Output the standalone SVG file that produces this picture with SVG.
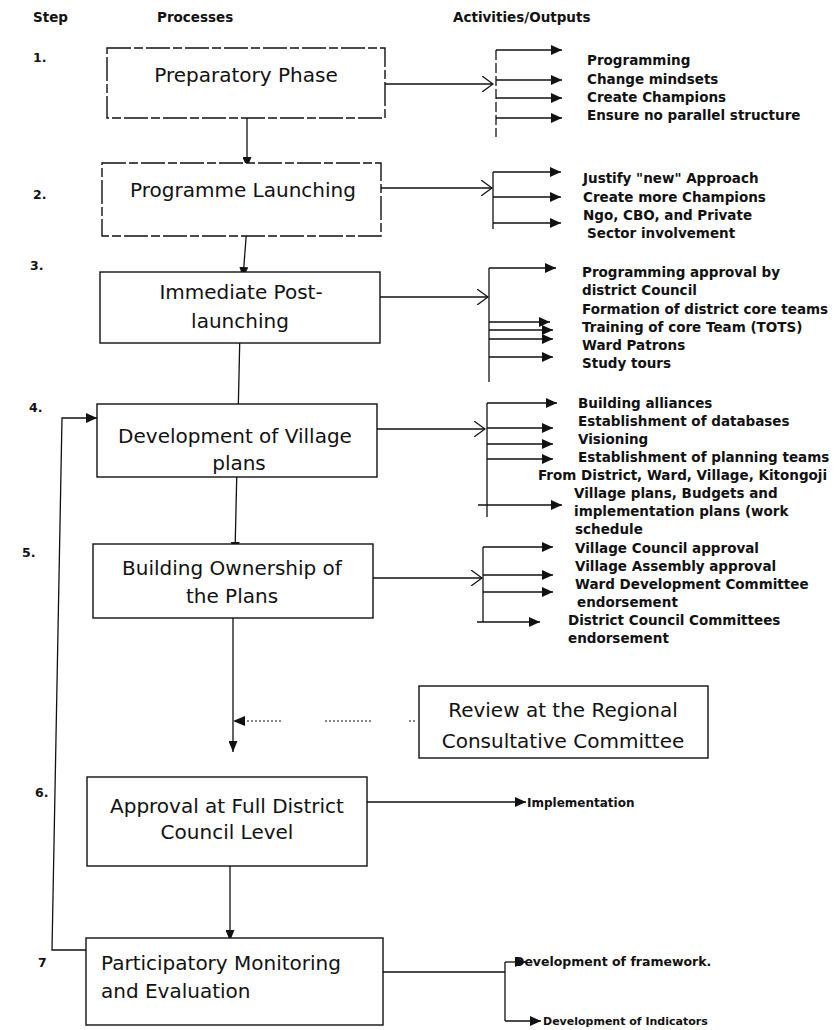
<svg xmlns="http://www.w3.org/2000/svg" width="840" height="1030" viewBox="0 0 840 1030">
<style>
.box{fill:#fff;stroke:#111;stroke-width:1.4}
.dbox{fill:#fff;stroke:#111;stroke-width:1.4;stroke-dasharray:24 3 9 3}
.ln{fill:none;stroke:#111;stroke-width:1.3}
.dl{fill:none;stroke:#111;stroke-width:1.3;stroke-dasharray:10 3}
.dot{fill:none;stroke:#111;stroke-width:1.2;stroke-dasharray:2 2}
.t{font-family:"DejaVu Sans",Verdana,sans-serif;font-size:20px;fill:#111;text-anchor:middle}
.tl{font-family:"DejaVu Sans",Verdana,sans-serif;font-size:20px;fill:#111}
.o{font-family:"DejaVu Sans",Verdana,sans-serif;font-weight:bold;font-size:13.5px;fill:#111}
.h{font-family:"DejaVu Sans",Verdana,sans-serif;font-weight:bold;font-size:13.5px;fill:#111}
.n{font-family:"DejaVu Sans",Verdana,sans-serif;font-weight:bold;font-size:12.5px;fill:#111}
</style>
<defs>
<marker id="tri" viewBox="0 0 11 10" refX="11" refY="5" markerWidth="11" markerHeight="10" orient="auto" markerUnits="userSpaceOnUse"><path d="M0,0 L11,5 L0,10 z" fill="#111"/></marker>
<marker id="dn" viewBox="0 0 11 9" refX="11" refY="4.5" markerWidth="11" markerHeight="9" orient="auto" markerUnits="userSpaceOnUse"><path d="M0,0 L11,4.5 L0,9 z" fill="#111"/></marker>
<marker id="open" viewBox="0 0 12 16" refX="11" refY="8" markerWidth="12" markerHeight="16" orient="auto" markerUnits="userSpaceOnUse"><path d="M0,0 L11,8 L0,16" fill="none" stroke="#111" stroke-width="1.3"/></marker>
</defs>

<g id="headers">
<text class="h" x="33" y="22">Step</text>
<text class="h" x="157" y="22">Processes</text>
<text class="h" x="453" y="22">Activities/Outputs</text>
<text class="n" x="33" y="62">1.</text>
<text class="n" x="33" y="199">2.</text>
<text class="n" x="30" y="270">3.</text>
<text class="n" x="29" y="412">4.</text>
<text class="n" x="22" y="557">5.</text>
<text class="n" x="35" y="797">6.</text>
<text class="n" x="38" y="967">7</text>
</g>

<g id="connectors">
<path class="ln" d="M247,110 V168" marker-end="url(#dn)"/>
<path class="ln" d="M247,225 L243,278" marker-end="url(#dn)"/>
<path class="ln" d="M240,330 L238,420" marker-end="url(#dn)"/>
<path class="ln" d="M237,465 L235,553" marker-end="url(#dn)"/>
<path class="ln" d="M233,612 V752" marker-end="url(#dn)"/>
<path class="ln" d="M230,858 V941" marker-end="url(#dn)"/>
<path class="ln" d="M86,950 H52 L62,418 H97" marker-end="url(#tri)"/>
<path class="dot" d="M247,721 H282 M325,721 H373 M409,721 H417"/>
<path d="M233,721 L245,716 L245,726 z" fill="#111"/>
<path class="ln" d="M385,84 H493" marker-end="url(#open)"/>
<path class="dl" d="M496,50 V137"/>
<path class="ln" d="M496,50 H562" marker-end="url(#tri)"/>
<path class="ln" d="M496,80 H562" marker-end="url(#tri)"/>
<path class="ln" d="M496,98 H562" marker-end="url(#tri)"/>
<path class="ln" d="M496,118 H562" marker-end="url(#tri)"/>
<path class="ln" d="M381,188 H492" marker-end="url(#open)"/>
<path class="ln" d="M493,172 V229"/>
<path class="ln" d="M493,172 H561" marker-end="url(#tri)"/>
<path class="ln" d="M493,197 H561" marker-end="url(#tri)"/>
<path class="ln" d="M493,223 H561" marker-end="url(#tri)"/>
<path class="ln" d="M380,297 H488" marker-end="url(#open)"/>
<path class="ln" d="M489,268 V382"/>
<path class="ln" d="M489,268 H556" marker-end="url(#tri)"/>
<path class="ln" d="M489,322 H550" marker-end="url(#tri)"/>
<path class="ln" d="M489,330 H553" marker-end="url(#tri)"/>
<path class="ln" d="M489,339 H553" marker-end="url(#tri)"/>
<path class="ln" d="M489,357 H553" marker-end="url(#tri)"/>
<path class="ln" d="M377,429 H485" marker-end="url(#open)"/>
<path class="ln" d="M487,403 V517"/>
<path class="ln" d="M487,403 H557" marker-end="url(#tri)"/>
<path class="ln" d="M487,428 H553" marker-end="url(#tri)"/>
<path class="ln" d="M487,444 H553" marker-end="url(#tri)"/>
<path class="ln" d="M487,459 H553" marker-end="url(#tri)"/>
<path class="ln" d="M478,505 H562" marker-end="url(#tri)"/>
<path class="ln" d="M373,578 H482" marker-end="url(#open)"/>
<path class="ln" d="M483,547 V622"/>
<path class="ln" d="M483,547 H553" marker-end="url(#tri)"/>
<path class="ln" d="M483,575 H553" marker-end="url(#tri)"/>
<path class="ln" d="M483,592 H553" marker-end="url(#tri)"/>
<path class="ln" d="M477,622 H540" marker-end="url(#tri)"/>
<path class="ln" d="M367,802 H526" marker-end="url(#tri)"/>
<path class="ln" d="M383,972 H505 M505,962 V1021"/>
<path class="ln" d="M505,962 H526" marker-end="url(#tri)"/>
<path class="ln" d="M505,1021 H541" marker-end="url(#tri)"/>
</g>

<g id="n1">
<rect class="dbox" x="107" y="48" width="278" height="70"/>
<text class="t" x="246" y="82">Preparatory Phase</text>
</g>
<g id="n2">
<rect class="dbox" x="102" y="163" width="279" height="73"/>
<text class="t" x="243" y="197">Programme Launching</text>
</g>
<g id="n3">
<rect class="box" x="100" y="272" width="280" height="71"/>
<text class="t" x="241" y="299">Immediate Post-</text>
<text class="t" x="240" y="328">launching</text>
</g>
<g id="n4">
<rect class="box" x="97" y="404" width="280" height="73"/>
<text class="t" x="235" y="443">Development of Village</text>
<text class="t" x="239" y="470">plans</text>
</g>
<g id="n5">
<rect class="box" x="93" y="544" width="280" height="74"/>
<text class="t" x="232" y="575">Building Ownership of</text>
<text class="t" x="232" y="603">the Plans</text>
</g>
<g id="review">
<rect class="box" x="419" y="686" width="289" height="72"/>
<text class="t" x="563" y="717">Review at the Regional</text>
<text class="t" x="563" y="748">Consultative Committee</text>
</g>
<g id="n6">
<rect class="box" x="87" y="777" width="280" height="89"/>
<text class="t" x="227" y="813">Approval at Full District</text>
<text class="t" x="227" y="839">Council Level</text>
</g>
<g id="n7">
<rect class="box" x="86" y="938" width="297" height="87"/>
<text class="tl" x="101" y="970">Participatory Monitoring</text>
<text class="tl" x="101" y="998">and Evaluation</text>
</g>

<g id="outputs-1">
<text class="o" x="587" y="65">Programming</text>
<text class="o" x="587" y="84">Change mindsets</text>
<text class="o" x="587" y="102">Create Champions</text>
<text class="o" x="587" y="120">Ensure no parallel structure</text>
</g>
<g id="outputs-2">
<text class="o" x="583" y="183">Justify "new" Approach</text>
<text class="o" x="583" y="202">Create more Champions</text>
<text class="o" x="583" y="220">Ngo, CBO, and Private</text>
<text class="o" x="587" y="238">Sector involvement</text>
</g>
<g id="outputs-3">
<text class="o" x="582" y="277">Programming approval by</text>
<text class="o" x="582" y="295">district Council</text>
<text class="o" x="582" y="314">Formation of district core teams</text>
<text class="o" x="582" y="332">Training of core Team (TOTS)</text>
<text class="o" x="582" y="350">Ward Patrons</text>
<text class="o" x="582" y="368">Study tours</text>
</g>
<g id="outputs-4">
<text class="o" x="578" y="408">Building alliances</text>
<text class="o" x="578" y="426">Establishment of databases</text>
<text class="o" x="578" y="444">Visioning</text>
<text class="o" x="578" y="462">Establishment of planning teams</text>
<text class="o" x="538" y="480">From District, Ward, Village, Kitongoji</text>
<text class="o" x="574" y="498">Village plans, Budgets and</text>
<text class="o" x="574" y="516">implementation plans (work</text>
<text class="o" x="575" y="534">schedule</text>
</g>
<g id="outputs-5">
<text class="o" x="575" y="553">Village Council approval</text>
<text class="o" x="575" y="571">Village Assembly approval</text>
<text class="o" x="575" y="589">Ward Development Committee</text>
<text class="o" x="577" y="607">endorsement</text>
<text class="o" x="568" y="625">District Council Committees</text>
<text class="o" x="568" y="643">endorsement</text>
</g>
<g id="outputs-6">
<text class="o" x="527" y="807" style="font-size:12px">Implementation</text>
</g>
<g id="outputs-7">
<text class="o" x="514" y="966" style="font-size:12.5px">Development of framework.</text>
<text class="o" x="543" y="1025" style="font-size:11px">Development of Indicators</text>
</g>
</svg>
